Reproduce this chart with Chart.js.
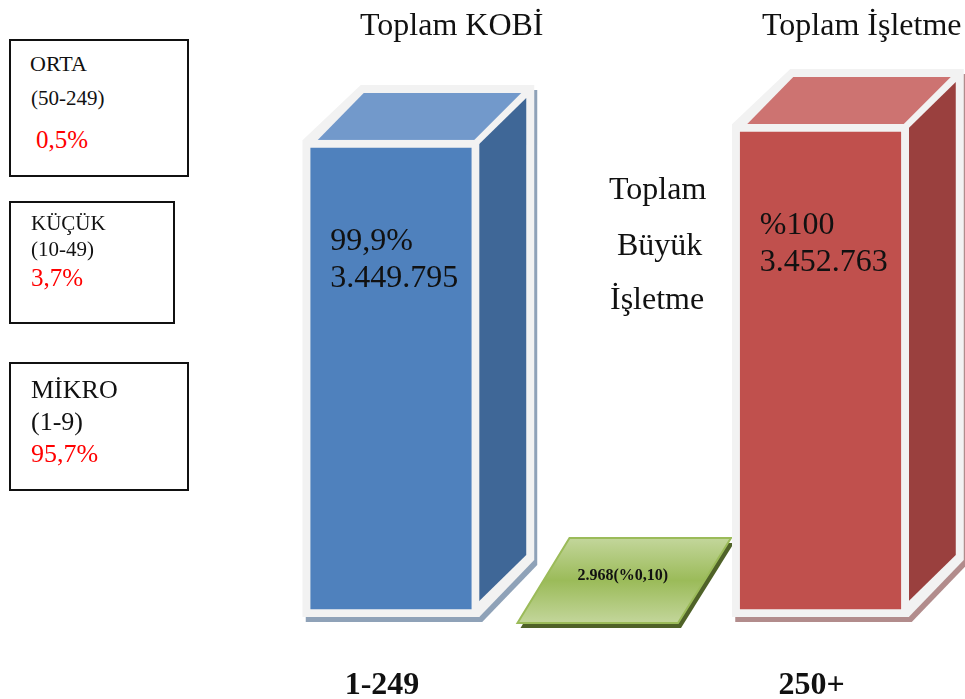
<!DOCTYPE html>
<html lang="tr">
<head>
<meta charset="utf-8">
<title>Toplam KOBİ</title>
<script src="https://cdn.jsdelivr.net/npm/chart.js@4"></script>
<style>
    html, body { margin: 0; padding: 0; background: #fff; }
    body { position: relative; width: 965px; height: 699px; overflow: hidden; font-family: "Liberation Serif", serif; color: #111; }
    canvas { position: absolute; left: 0; top: 0; }
    .t { position: absolute; white-space: nowrap; line-height: normal; }
    .box { position: absolute; box-sizing: border-box; border: 2px solid #111; background: #fff; }
    .red { color: #f00; }
</style>
</head>
<body>
<canvas id="chart" width="965" height="699"></canvas>

<div class="t" style="left:360px;top:6px;font-size:32px">Toplam KOBİ</div>
<div class="t" style="left:762px;top:6px;font-size:32px">Toplam İşletme</div>
<div class="t" style="left:609px;top:170px;font-size:32px">Toplam</div>
<div class="t" style="left:617px;top:226px;font-size:32px">Büyük</div>
<div class="t" style="left:610px;top:280px;font-size:32px">İşletme</div>

<div class="box" style="left:9px;top:39px;width:180px;height:138px"></div>
<div class="t" style="left:30px;top:51px;font-size:22px">ORTA</div>
<div class="t" style="left:31px;top:86px;font-size:21px">(50-249)</div>
<div class="t red" style="left:36px;top:126px;font-size:25px">0,5%</div>

<div class="box" style="left:9px;top:201px;width:166px;height:123px"></div>
<div class="t" style="left:31px;top:211px;font-size:21px">KÜÇÜK</div>
<div class="t" style="left:31px;top:237px;font-size:21px">(10-49)</div>
<div class="t red" style="left:31px;top:264px;font-size:25px">3,7%</div>

<div class="box" style="left:9px;top:362px;width:180px;height:129px"></div>
<div class="t" style="left:31px;top:375px;font-size:26px">MİKRO</div>
<div class="t" style="left:31px;top:407px;font-size:26px">(1-9)</div>
<div class="t red" style="left:31px;top:439px;font-size:26px">95,7%</div>

<script>
// bars are drawn to the heights seen in the picture, % of the tallest one
var categories = ['1-249', '', '250+'];
var barHeights = [96.75, 0.1, 100];
var shareLabels = ['99,9%', '2.968(%0,10)', '%100'];
var countLabels = ['3.449.795', '', '3.452.763'];

var frontColors = ['#4f81bd', 'transparent', '#c0504d'];
var topColors = ['#7299cb', null, '#cd7371'];
var sideColors = ['#3f6797', null, '#9a403e'];
var shadowColors = ['#8fa2b8', '#4f6228', '#b28c8c'];
var edgeColor = '#f2f2f2';

function poly(ctx, pts, fill) {
    ctx.beginPath();
    ctx.moveTo(pts[0][0], pts[0][1]);
    for (var i = 1; i < pts.length; i++) ctx.lineTo(pts[i][0], pts[i][1]);
    ctx.closePath();
    ctx.fillStyle = fill;
    ctx.fill();
}

function shifted(pts, dx, dy) {
    return pts.map(function (p) { return [p[0] + dx, p[1] + dy]; });
}

// the library has no 3D bars, so the extra faces hang off each bar element
var boxFaces = {
    id: 'boxFaces',
    beforeDatasetsDraw: function (chart) {
        var ctx = chart.ctx;
        chart.getDatasetMeta(0).data.forEach(function (bar, i) {
            var x0 = bar.x - bar.width / 2, x1 = bar.x + bar.width / 2;
            var y0 = bar.y, b = bar.base;

            if (i === 1) {
                // the small bar is only its lid
                var lid = [[x0, b + 6], [x1 - 16, b + 6], [x1 + 37, b - 79], [x0 + 52, b - 79]];
                poly(ctx, shifted(lid, 3, 5), shadowColors[i]);
                var g = ctx.createLinearGradient(0, b - 79, 0, b + 6);
                g.addColorStop(0, '#c3d69b');
                g.addColorStop(0.5, '#9bbb59');
                g.addColorStop(1, '#c3d69b');
                poly(ctx, lid, g);
                ctx.strokeStyle = '#9bbb59';
                ctx.lineWidth = 2;
                ctx.stroke();
                return;
            }

            var outline = [[x0, b], [x0, y0], [x0 + 58, y0 - 55], [x1 + 55, y0 - 55], [x1 + 55, b - 57], [x1, b]];
            poly(ctx, shifted(outline, 3, 5), shadowColors[i]);
            poly(ctx, outline, edgeColor);
            poly(ctx, [[x0 + 14, y0 + 1], [x0 + 61, y0 - 47], [x1 + 42, y0 - 47], [x1 - 6, y0 + 1]], topColors[i]);
            poly(ctx, [[x1 - 1, y0 + 5], [x1 + 47, y0 - 42], [x1 + 47, b - 62], [x1 - 1, b - 15]], sideColors[i]);
        });
    },
    afterDatasetsDraw: function (chart) {
        var ctx = chart.ctx;
        ctx.save();
        ctx.fillStyle = '#111';
        ctx.textBaseline = 'alphabetic';
        chart.getDatasetMeta(0).data.forEach(function (bar, i) {
            var x0 = bar.x - bar.width / 2;
            if (i === 1) {
                ctx.font = 'bold 16px "Liberation Serif"';
                ctx.textAlign = 'center';
                ctx.fillText(shareLabels[i], bar.x + 17, bar.base - 37);
            } else {
                ctx.font = '32px "Liberation Serif"';
                ctx.textAlign = 'left';
                ctx.fillText(shareLabels[i], x0 + 27.5, bar.y + 110);
                ctx.fillText(countLabels[i], x0 + 27.5, bar.y + 147);
            }
        });
        ctx.restore();
    }
};

var chart = new Chart(document.getElementById('chart').getContext('2d'), {
    type: 'bar',
    data: {
        labels: categories,
        datasets: [{
            data: barHeights,
            backgroundColor: frontColors,
            borderColor: [edgeColor, 'transparent', edgeColor],
            borderWidth: 8,
            borderSkipped: false,
            barThickness: 176.5
        }]
    },
    options: {
        responsive: false,
        animation: false,
        layout: { padding: { left: 283.6, right: 37.1, top: 124, bottom: 0 } },
        plugins: { legend: { display: false }, tooltip: { enabled: false }, title: { display: false } },
        scales: {
            x: {
                grid: { display: false },
                border: { display: false },
                afterFit: function (scale) { scale.height = 82; },
                ticks: {
                    color: '#111',
                    padding: 42,
                    labelOffset: -9,
                    maxRotation: 0,
                    font: { family: '"Liberation Serif"', size: 32, weight: 'bold' }
                }
            },
            y: { display: false, min: 0, max: 100 }
        }
    },
    plugins: [boxFaces]
});
</script>
</body>
</html>
